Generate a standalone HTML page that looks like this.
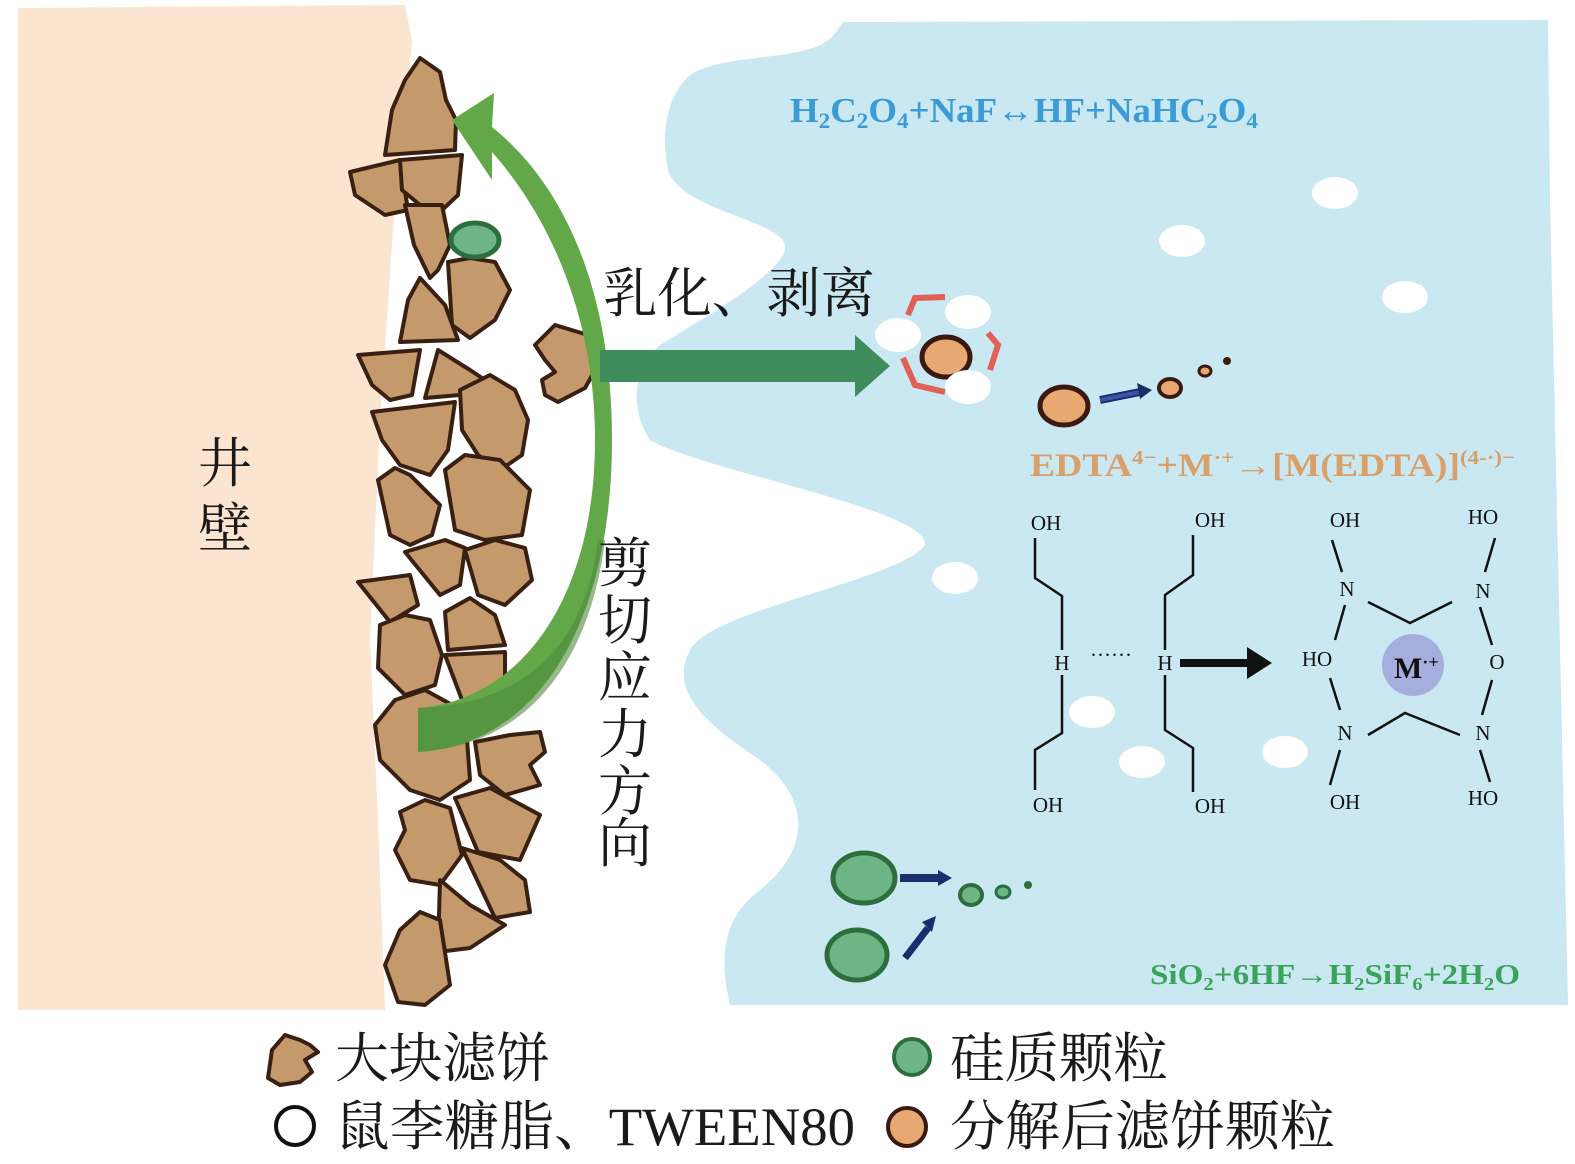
<!DOCTYPE html>
<html><head><meta charset="utf-8"><style>
html,body{margin:0;padding:0;background:#fff;}
svg{display:block;}
.cn{font-family:"Liberation Serif","Noto Serif CJK SC","Noto Sans CJK SC",serif;fill:#1a1a1a;}
.eq{font-family:"Liberation Serif",serif;font-weight:bold;}
.ch{font-family:"Liberation Serif",serif;font-size:21px;fill:#111;}
</style></head><body>
<svg width="1575" height="1164" viewBox="0 0 1575 1164" xmlns="http://www.w3.org/2000/svg">
<path d="M18,8 L405,5 L412,40 L405,120 L395,200 L380,420 L370,640 L378,820 L385,1010 L18,1010 Z" fill="#fbe5d0"/>
<path d="M843,22 L1548,20 L1550,200 L1568,1005 L730,1005 C720,960 720,920 760,890 C810,850 812,800 760,760 C700,720 670,690 690,650 C710,610 900,580 925,545 C930,510 700,470 650,440 C630,410 632,370 660,345 C700,320 790,270 785,245 C780,220 680,210 668,170 C660,130 668,95 690,75 C720,55 790,60 820,45 C835,38 838,28 843,22 Z" fill="#c9e8f1"/>
<g fill="#c49a6c" stroke="#3a2012" stroke-width="4" stroke-linejoin="round">
<path d="M385,155 L392,110 L405,80 L420,58 L440,72 L446,100 L456,120 L455,150 Z"/>
<path d="M350,172 L400,160 L408,210 L385,215 L370,205 L355,195 Z"/>
<path d="M400,160 L462,155 L458,195 L440,212 L420,205 L402,190 Z"/>
<path d="M405,205 L442,205 L450,245 L438,270 L430,278 L414,245 Z"/>
<path d="M448,262 L470,258 L495,262 L510,290 L495,320 L470,338 L452,325 Z"/>
<path d="M400,342 L408,300 L420,278 L445,305 L458,340 Z"/>
<path d="M358,355 L420,350 L412,395 L390,400 L372,385 Z"/>
<path d="M425,398 L438,350 L470,370 L485,380 L460,395 Z"/>
<path d="M460,390 L490,375 L515,390 L528,420 L522,455 L500,470 L478,455 L462,430 Z"/>
<path d="M372,412 L455,402 L448,450 L430,475 L400,465 L382,440 Z"/>
<path d="M445,470 L465,455 L500,460 L530,490 L522,535 L485,540 L455,530 Z"/>
<path d="M378,480 L395,468 L410,475 L440,505 L432,535 L410,545 L390,535 Z"/>
<path d="M405,552 L445,540 L465,548 L460,585 L440,595 Z"/>
<path d="M465,550 L495,540 L525,548 L532,580 L505,605 L478,595 Z"/>
<path d="M358,582 L410,575 L418,605 L390,622 Z"/>
<path d="M445,612 L470,598 L495,615 L505,645 L448,650 Z"/>
<path d="M380,625 L405,615 L430,620 L442,655 L435,685 L405,695 L378,668 Z"/>
<path d="M445,655 L505,652 L505,695 L462,700 Z"/>
<path d="M375,725 L395,700 L425,690 L465,712 L470,780 L440,800 L410,790 L380,760 Z"/>
<path d="M475,742 L510,735 L540,732 L545,752 L530,765 L540,785 L505,795 L480,775 Z"/>
<path d="M455,798 L490,788 L540,815 L520,860 L478,852 Z"/>
<path d="M400,812 L425,800 L450,808 L462,855 L440,885 L410,880 L395,850 L405,830 Z"/>
<path d="M462,848 L500,860 L525,880 L530,912 L495,918 Z"/>
<path d="M440,880 L470,905 L505,925 L470,948 L438,952 Z"/>
<path d="M385,965 L400,930 L420,912 L440,920 L450,985 L425,1005 L398,1002 Z"/>
<path d="M535,345 L555,325 L588,335 L598,365 L585,388 L558,402 L545,395 L542,380 L555,372 L545,360 Z"/>
</g>
<ellipse cx="475" cy="240" rx="24" ry="17" fill="#6db585" stroke="#2d6e3e" stroke-width="5"/>
<path d="M418,752 C540,745 612,620 612,440 C612,300 570,190 492,127 L494,93 L452,120 L492,180 L492,152 C552,220 595,320 595,440 C595,600 520,700 418,708 Z" fill="#62a748"/>
<path d="M418,752 C530,745 590,660 605,540 L598,540 C585,650 520,705 418,708 Z" fill="#4e8a3c" opacity="0.6"/>
<rect x="600" y="350" width="257" height="32" fill="#3f8c5d"/>
<polygon points="855,335 890,366 855,397" fill="#3f8c5d"/>
<g fill="#fff">
<ellipse cx="1335" cy="193" rx="23" ry="16"/>
<ellipse cx="1182" cy="241" rx="23" ry="16"/>
<ellipse cx="1405" cy="297" rx="23" ry="16"/>
<ellipse cx="955" cy="578" rx="23" ry="16"/>
<ellipse cx="1092" cy="712" rx="23" ry="16"/>
<ellipse cx="1142" cy="762" rx="23" ry="16"/>
<ellipse cx="1285" cy="752" rx="23" ry="16"/>
</g>
<g fill="none" stroke="#e06055" stroke-width="6">
<path d="M908,315 L915,298 L945,297"/>
<path d="M988,333 L998,345 L990,370"/>
<path d="M903,358 L915,385 L945,392"/>
</g>
<ellipse cx="946" cy="357" rx="24" ry="20" fill="#e8a872" stroke="#3a1a10" stroke-width="5"/>
<g fill="#fff">
<ellipse cx="898" cy="335" rx="23" ry="17"/>
<ellipse cx="968" cy="312" rx="23" ry="17"/>
<ellipse cx="968" cy="387" rx="23" ry="17"/>
</g>
<ellipse cx="1064" cy="406" rx="24" ry="19" fill="#e8a872" stroke="#3a1a10" stroke-width="5"/>
<ellipse cx="1170" cy="388" rx="11" ry="9" fill="#e8a872" stroke="#3a1a10" stroke-width="4"/>
<ellipse cx="1205" cy="371" rx="6" ry="5" fill="#e8a872" stroke="#3a1a10" stroke-width="3"/>
<circle cx="1227" cy="361" r="4" fill="#3a1a10"/>
<path d="M1100,400 L1140,392" stroke="#1c2d6e" stroke-width="8"/>
<path d="M1100,400 L1140,392" stroke="#3855a8" stroke-width="4"/>
<polygon points="1137,383 1152,390 1140,399" fill="#1c2d6e"/>
<ellipse cx="864" cy="878" rx="31" ry="25" fill="#6db585" stroke="#2d6e3e" stroke-width="5"/>
<ellipse cx="857" cy="955" rx="30" ry="25" fill="#6db585" stroke="#2d6e3e" stroke-width="5"/>
<ellipse cx="971" cy="895" rx="11" ry="10" fill="#6db585" stroke="#2d6e3e" stroke-width="4"/>
<ellipse cx="1003" cy="892" rx="7" ry="6" fill="#6db585" stroke="#2d6e3e" stroke-width="3"/>
<circle cx="1028" cy="885" r="4" fill="#2d6e3e"/>
<path d="M900,878 L940,878" stroke="#1c2d6e" stroke-width="8"/>
<polygon points="938,870 952,878 938,886" fill="#1c2d6e"/>
<path d="M905,958 L928,928" stroke="#1c2d6e" stroke-width="7"/>
<polygon points="922,922 936,916 932,932" fill="#1c2d6e"/>
<text class="eq" x="790" y="122" font-size="35" fill="#3b9bd6" textLength="468" lengthAdjust="spacingAndGlyphs">H<tspan font-size="22" dy="6">2</tspan><tspan dy="-6">C</tspan><tspan font-size="22" dy="6">2</tspan><tspan dy="-6">O</tspan><tspan font-size="22" dy="6">4</tspan><tspan dy="-6">+NaF↔HF+NaHC</tspan><tspan font-size="22" dy="6">2</tspan><tspan dy="-6">O</tspan><tspan font-size="22" dy="6">4</tspan></text>
<text class="eq" x="1030" y="476" font-size="33" fill="#d9a06a" textLength="485" lengthAdjust="spacingAndGlyphs">EDTA<tspan font-size="20" dy="-12">4−</tspan><tspan dy="12">+M</tspan><tspan font-size="20" dy="-12">·+</tspan><tspan dy="12">→[M(EDTA)]</tspan><tspan font-size="20" dy="-12">(4-·)−</tspan></text>
<text class="eq" x="1150" y="984" font-size="29" fill="#3aa35a" textLength="370" lengthAdjust="spacingAndGlyphs">SiO<tspan font-size="18" dy="6">2</tspan><tspan dy="-6">+6HF→H</tspan><tspan font-size="18" dy="6">2</tspan><tspan dy="-6">SiF</tspan><tspan font-size="18" dy="6">6</tspan><tspan dy="-6">+2H</tspan><tspan font-size="18" dy="6">2</tspan><tspan dy="-6">O</tspan></text>
<g stroke="#111" stroke-width="2.5" fill="none">
<path d="M1035,538 L1035,578 L1062,596 L1062,650"/>
<path d="M1062,675 L1062,733 L1035,750 L1035,790"/>
<path d="M1193,535 L1193,575 L1165,595 L1165,650"/>
<path d="M1165,675 L1165,730 L1193,748 L1193,792"/>
<path d="M1332,540 L1342,572"/><path d="M1495,538 L1485,572"/>
<path d="M1345,605 L1335,640"/><path d="M1480,607 L1492,645"/>
<path d="M1330,678 L1340,710"/><path d="M1492,680 L1482,715"/>
<path d="M1368,602 L1410,623 L1452,602"/>
<path d="M1368,735 L1405,713 L1460,735"/>
<path d="M1340,750 L1330,785"/><path d="M1480,750 L1490,782"/>
</g>
<text class="ch" x="1090" y="662" font-size="16">······</text>
<rect x="1180" y="659" width="70" height="8" fill="#111"/>
<polygon points="1247,647 1272,663 1247,679" fill="#111"/>
<g class="ch" text-anchor="middle">
<text x="1046" y="530">OH</text><text x="1062" y="670">H</text><text x="1048" y="812">OH</text>
<text x="1210" y="527">OH</text><text x="1165" y="670">H</text><text x="1210" y="813">OH</text>
<text x="1345" y="527">OH</text><text x="1483" y="524">HO</text>
<text x="1347" y="596">N</text><text x="1483" y="598">N</text>
<text x="1317" y="666">HO</text><text x="1497" y="669">O</text>
<text x="1345" y="740">N</text><text x="1483" y="740">N</text>
<text x="1345" y="809">OH</text><text x="1483" y="805">HO</text>
</g>
<circle cx="1413" cy="665" r="31" fill="#a5aedc"/>
<text x="1394" y="678" font-family="Liberation Serif,serif" font-weight="bold" font-size="30" fill="#111">M<tspan font-size="18" dy="-10">·+</tspan></text>
<text class="cn" x="603" y="312" font-size="54" textLength="272" lengthAdjust="spacingAndGlyphs">乳化、剥离</text>
<g class="cn" font-size="54">
<text x="598" y="582">剪</text><text x="598" y="639">切</text><text x="598" y="696">应</text>
<text x="598" y="753">力</text><text x="598" y="810">方</text><text x="598" y="862">向</text>
<text x="198" y="482">井</text><text x="198" y="547">壁</text>
</g>
<path d="M268,1078 L272,1050 L285,1035 L300,1040 L310,1045 L318,1052 L305,1060 L312,1072 L300,1082 L280,1085 Z" fill="#c49a6c" stroke="#3a2012" stroke-width="4" stroke-linejoin="round"/>
<text class="cn" x="335" y="1077" font-size="54" textLength="215" lengthAdjust="spacingAndGlyphs">大块滤饼</text>
<circle cx="295" cy="1126" r="19" fill="#fff" stroke="#111" stroke-width="4"/>
<text class="cn" x="335" y="1145" font-size="54" textLength="520" lengthAdjust="spacingAndGlyphs">鼠李糖脂、TWEEN80</text>
<circle cx="912" cy="1057" r="18" fill="#6db585" stroke="#2d6e3e" stroke-width="4"/>
<text class="cn" x="950" y="1077" font-size="54" textLength="218" lengthAdjust="spacingAndGlyphs">硅质颗粒</text>
<circle cx="907" cy="1127" r="19" fill="#e8a872" stroke="#3a1a10" stroke-width="4"/>
<text class="cn" x="950" y="1145" font-size="54" textLength="385" lengthAdjust="spacingAndGlyphs">分解后滤饼颗粒</text>
</svg>
</body></html>
